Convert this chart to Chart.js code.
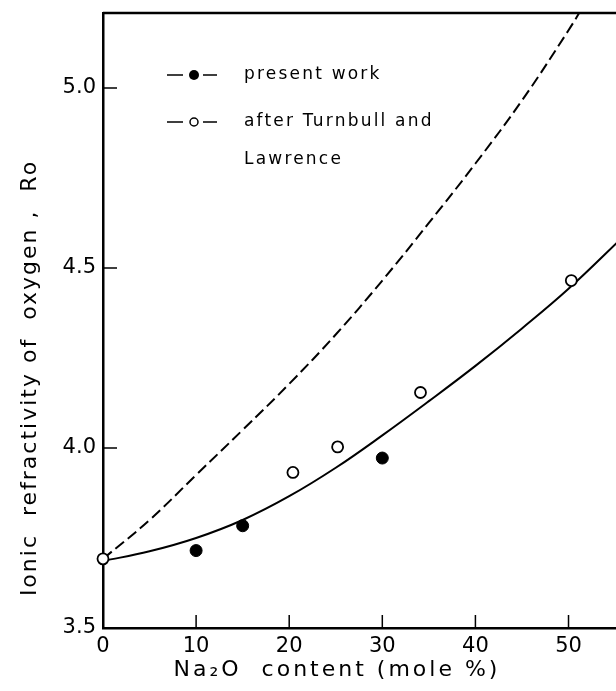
<!DOCTYPE html>
<html>
<head>
<meta charset="utf-8">
<script src="https://cdn.jsdelivr.net/npm/chart.js@4/dist/chart.umd.min.js"></script>
<style>
  html, body { margin: 0; padding: 0; background: #fff; }
  canvas { display: block; }
</style>
</head>
<body>
<canvas id="grafico" width="616" height="691"></canvas>
<script>
// === Datos ===
const presentX = [10, 15, 30];
const presentY = [3.715, 3.784, 3.972];

const turnbullX = [0, 20.4, 25.2, 34.1, 50.3];
const turnbullY = [3.692, 3.932, 4.003, 4.154, 4.465];

// curva continua (ajuste)
const curvaX = [0, 5, 10, 15, 20, 25, 30, 35, 40, 45, 50, 56];
const curvaY = [3.686, 3.713, 3.75, 3.80, 3.866, 3.945, 4.035, 4.13, 4.228, 4.332, 4.442, 4.59];

// curva discontinua
const discX = [0, 5, 10, 15, 20, 25, 30, 35, 40, 45, 50, 52];
const discY = [3.692, 3.80, 3.925, 4.05, 4.178, 4.315, 4.465, 4.625, 4.79, 4.965, 5.16, 5.245];

const xTicks = [0, 10, 20, 30, 40, 50];
const yTicks = [3.5, 4.0, 4.5, 5.0];

const legendItems = ["present work", "after Turnbull and", "Lawrence"];
const xTitle = "Na₂O  content (mole %)";
const yTitle = "Ionic  refractivity of  oxygen ,  Ro";

const FONT = "'DejaVu Sans', sans-serif";
const pares = (xs, ys) => xs.map((x, i) => ({ x, y: ys[i] }));

// === Plugin: ticks hacia dentro, borde superior, textos ===
const extras = {
  id: "extras",
  afterDraw(chart) {
    const { ctx, chartArea: a, scales: { x, y } } = chart;
    ctx.save();
    ctx.strokeStyle = "#000";
    ctx.lineWidth = 1.5;
    ctx.beginPath();
    xTicks.slice(1).forEach(v => {
      const px = x.getPixelForValue(v);
      ctx.moveTo(px, a.bottom);
      ctx.lineTo(px, a.bottom - 13);
    });
    yTicks.slice(1).forEach(v => {
      const py = y.getPixelForValue(v);
      ctx.moveTo(a.left, py);
      ctx.lineTo(a.left + 14, py);
    });
    ctx.stroke();

    // borde superior
    ctx.lineWidth = 2.5;
    ctx.beginPath();
    ctx.moveTo(a.left, a.top);
    ctx.lineTo(a.right, a.top);
    ctx.stroke();

    // leyenda
    ctx.fillStyle = "#000";
    ctx.font = "17px " + FONT;
    ctx.letterSpacing = "2.2px";
    ctx.textBaseline = "middle";
    ctx.textAlign = "left";
    const filas = [75, 122, 160];
    legendItems.forEach((t, i) => ctx.fillText(t, 244, filas[i]));
    ctx.letterSpacing = "0px";

    ctx.lineWidth = 1.5;
    [75, 122].forEach((fy, i) => {
      ctx.beginPath();
      ctx.moveTo(167, fy); ctx.lineTo(183, fy);
      ctx.moveTo(203, fy); ctx.lineTo(217, fy);
      ctx.stroke();
      ctx.beginPath();
      if (i === 0) {
        ctx.arc(194, fy, 5, 0, Math.PI * 2);
        ctx.fill();
      } else {
        ctx.arc(194, fy, 4, 0, Math.PI * 2);
        ctx.stroke();
      }
    });

    // títulos de ejes
    ctx.font = "22px " + FONT;
    ctx.textAlign = "center";
    ctx.letterSpacing = "3px";
    ctx.fillText(xTitle, 337, 670);
    ctx.letterSpacing = "2px";
    ctx.translate(30, 378);
    ctx.rotate(-Math.PI / 2);
    ctx.fillText(yTitle, 0, 0);
    ctx.restore();
  }
};

// === Gráfico ===
new Chart(document.getElementById("grafico"), {
  type: "scatter",
  data: {
    datasets: [
      {
        label: "present work",
        data: pares(presentX, presentY),
        pointRadius: 6,
        pointBackgroundColor: "#000",
        pointBorderColor: "#000",
        pointBorderWidth: 1,
        clip: false,
        order: 0
      },
      {
        label: "after Turnbull and Lawrence",
        data: pares(turnbullX, turnbullY),
        pointRadius: 5.5,
        pointBackgroundColor: "#fff",
        pointBorderColor: "#000",
        pointBorderWidth: 1.8,
        clip: false,
        order: 0
      },
      {
        data: pares(curvaX, curvaY),
        showLine: true,
        pointRadius: 0,
        borderColor: "#000",
        borderWidth: 2,
        tension: 0.4,
        order: 1
      },
      {
        data: pares(discX, discY),
        showLine: true,
        pointRadius: 0,
        borderColor: "#000",
        borderWidth: 2,
        borderDash: [11, 5],
        tension: 0.4,
        order: 1
      }
    ]
  },
  options: {
    responsive: false,
    animation: false,
    devicePixelRatio: 1,
    layout: { autoPadding: false, padding: { top: 13, right: 0, left: 0, bottom: 0 } },
    plugins: {
      legend: { display: false },
      tooltip: { enabled: false }
    },
    scales: {
      x: {
        type: "linear",
        min: 0,
        max: 55.1,
        afterFit: s => { s.height = 63; s.paddingLeft = 0; s.paddingRight = 0; },
        afterBuildTicks: s => { s.ticks = xTicks.map(v => ({ value: v })); },
        grid: { drawOnChartArea: false, drawTicks: false },
        border: { color: "#000", width: 2.5 },
        ticks: {
          color: "#000",
          font: { family: FONT, size: 21 },
          padding: 6,
          maxRotation: 0,
          callback: v => String(v)
        }
      },
      y: {
        type: "linear",
        min: 3.5,
        max: 5.208,
        afterFit: s => { s.width = 103; s.paddingTop = 0; s.paddingBottom = 0; },
        afterBuildTicks: s => { s.ticks = yTicks.map(v => ({ value: v })); },
        grid: { drawOnChartArea: false, drawTicks: false },
        border: { color: "#000", width: 2.5 },
        ticks: {
          color: "#000",
          font: { family: FONT, size: 21 },
          padding: 7,
          callback: v => v.toFixed(1)
        }
      }
    }
  },
  plugins: [extras]
});
</script>
</body>
</html>
